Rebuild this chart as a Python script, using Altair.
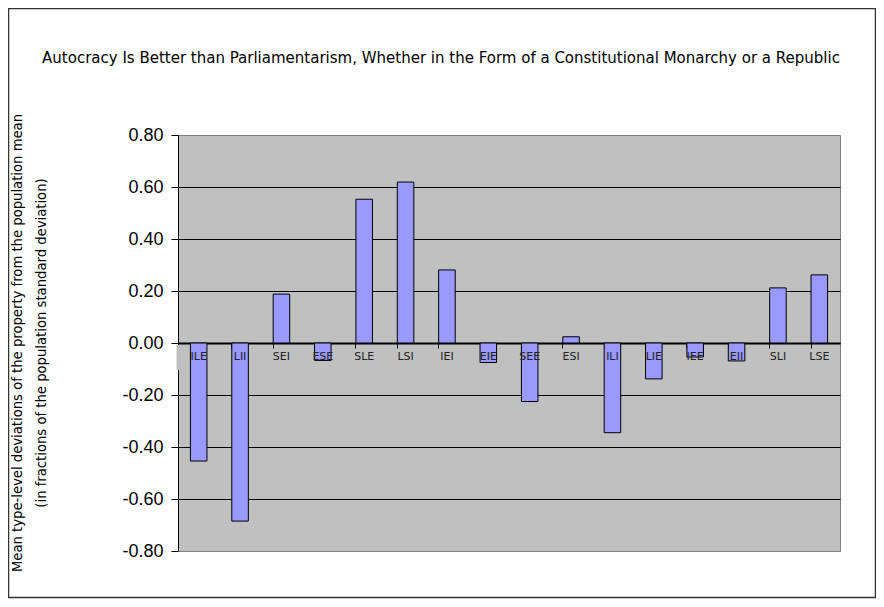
import altair as alt
import pandas as pd

categories = ["ILE", "LII", "SEI", "ESE", "SLE", "LSI", "IEI", "EIE",
              "SEE", "ESI", "ILI", "LIE", "IEE", "EII", "SLI", "LSE"]
values = [-0.454, -0.685, 0.188, -0.067, 0.553, 0.619, 0.281, -0.075,
          -0.225, 0.024, -0.345, -0.138, -0.054, -0.069, 0.212, 0.262]
y_ticks = [-0.8, -0.6, -0.4, -0.2, 0.0, 0.2, 0.4, 0.6, 0.8]
title_text = "Autocracy Is Better than Parliamentarism, Whether in the Form of a Constitutional Monarchy or a Republic"
y_title_1 = "Mean type-level deviations of the property from the population mean"
y_title_2 = "(in fractions of the population standard deviation)"

W, H = 662, 416

df = pd.DataFrame({"type": categories, "value": values})

x_enc = alt.X(
    "type:N", sort=categories,
    scale=alt.Scale(paddingInner=0.6, paddingOuter=0.3),
    axis=alt.Axis(title=None, labels=False, bandPosition=0, offset=-208,
                  tickSize=5, tickColor="black", domainColor="black",
                  domainWidth=2, grid=False),
)
y_enc = alt.Y(
    "value:Q",
    scale=alt.Scale(domain=[-0.8, 0.8], nice=False),
    axis=alt.Axis(values=y_ticks, format=".2f", title=None,
                  labelExpr="replace(datum.label, '\u2212', '-')",
                  labelFont="Liberation Sans", labelFontSize=18, labelColor="black",
                  tickColor="black", tickSize=7, labelPadding=8,
                  domainColor="black", grid=True,
                  gridColor=alt.condition("abs(datum.value) > 0.79",
                                          alt.value("#808080"), alt.value("black")),
                  gridOpacity=1),
)

base = alt.Chart(df)
bars = base.mark_bar(color="#9999FF", stroke="black", strokeWidth=1).encode(x=x_enc, y=y_enc)

patch = alt.Chart(pd.DataFrame({"k": [0]})).mark_rect(color="#C0C0C0").encode(
    x=alt.value(-1.5), x2=alt.value(1.5), y=alt.value(210), y2=alt.value(235))

labels = base.mark_text(font="DejaVu Sans", fontSize=11, color="#222222",
                        baseline="alphabetic", align="center").encode(
    x=alt.X("type:N", sort=categories), y=alt.value(225), text="type:N")

title = alt.Chart(pd.DataFrame({"t": [title_text]})).mark_text(
    font="DejaVu Sans", fontSize=15, color="black", align="center", baseline="middle"
).encode(x=alt.value(263), y=alt.value(-77), text="t:N")

yt1 = alt.Chart(pd.DataFrame({"t": [y_title_1]})).mark_text(
    font="DejaVu Sans", fontSize=13.2, color="black", align="center",
    baseline="middle", angle=270
).encode(x=alt.value(-160), y=alt.value(208), text="t:N")

yt2 = alt.Chart(pd.DataFrame({"t": [y_title_2]})).mark_text(
    font="DejaVu Sans", fontSize=13.2, color="black", align="center",
    baseline="middle", angle=270
).encode(x=alt.value(-136), y=alt.value(208), text="t:N")

border = alt.Chart(pd.DataFrame({"k": [0]})).mark_rect(
    fillOpacity=0, stroke="#333333", strokeWidth=1.5
).encode(x=alt.value(-169.5), x2=alt.value(697.5), y=alt.value(-126.5), y2=alt.value(462.5))

chart = alt.layer(bars, patch, labels, title, yt1, yt2, border).properties(
    width=W, height=H,
    autosize=alt.AutoSizeParams(type="none"),
    padding={"left": 170, "top": 127, "right": 36, "bottom": 48},
    background="white",
).configure_view(fill="#C0C0C0", stroke="#808080")

chart.save("out.html", embed_options={"renderer": "svg", "actions": False})
